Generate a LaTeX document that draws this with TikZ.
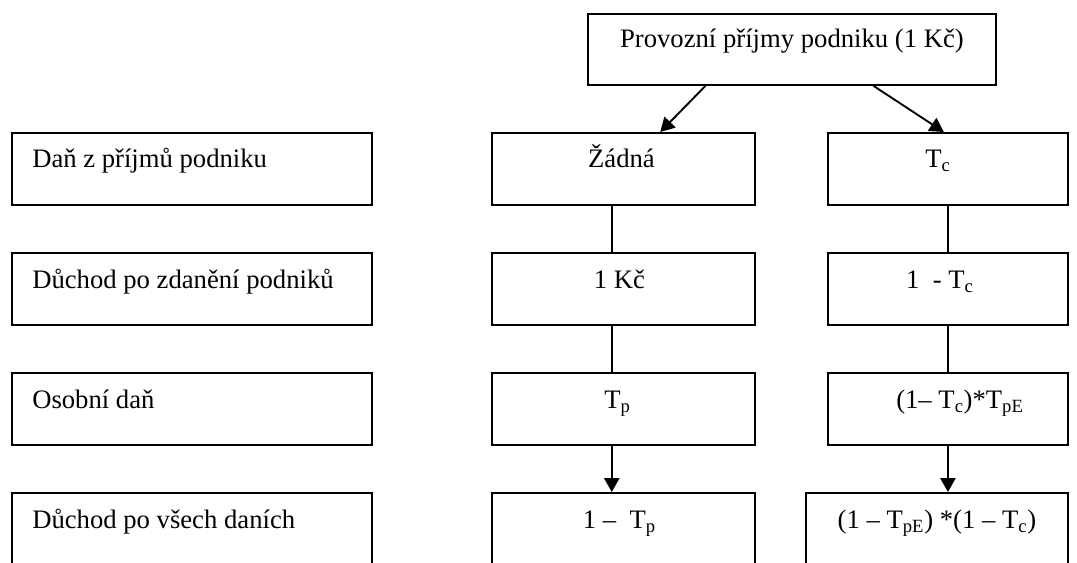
\documentclass[tikz,border=0pt]{standalone}
\usepackage{fontspec}
\setmainfont{Liberation Serif}
\usetikzlibrary{arrows.meta,calc}
\begin{document}
\begin{tikzpicture}[x=0.75pt,y=-0.75pt,
  box/.style={draw, line width=1.4pt, rectangle, inner sep=0pt, anchor=north west, minimum height=72*0.75pt},
  lbl/.style={anchor=base, inner sep=0pt, font=\fontsize{20}{24}\selectfont},
  conn/.style={line width=1.4pt},
  arr/.style={line width=1.4pt, -{Triangle[width=11.5pt,length=10.5pt]}}]
\useasboundingbox (0,0) rectangle (1077,562);
\clip (0,0) rectangle (1077,562);
% boxes
\node[box, minimum width=408*0.75pt, minimum height=71*0.75pt] (top) at (587,13) {};
\node[box, minimum width=360*0.75pt] (l1) at (11,132) {};
\node[box, minimum width=360*0.75pt] (l2) at (11,252) {};
\node[box, minimum width=360*0.75pt] (l3) at (11,372) {};
\node[box, minimum width=360*0.75pt, minimum height=90*0.75pt] (l4) at (11,492) {};
\node[box, minimum width=263*0.75pt] (m1) at (491,132) {};
\node[box, minimum width=263*0.75pt] (m2) at (491,252) {};
\node[box, minimum width=263*0.75pt] (m3) at (491,372) {};
\node[box, minimum width=263*0.75pt, minimum height=90*0.75pt] (m4) at (491,492) {};
\node[box, minimum width=240*0.75pt] (r1) at (827,132) {};
\node[box, minimum width=240*0.75pt] (r2) at (827,252) {};
\node[box, minimum width=240*0.75pt] (r3) at (827,372) {};
\node[box, minimum width=262*0.75pt, minimum height=90*0.75pt] (r4) at (805,492) {};
% texts
\node[lbl] (ttop) at ([yshift=-34*0.75pt]top.north) {Provozní příjmy podniku (1 Kč)};
\node[lbl, anchor=base west] (tl1) at ([xshift=21*0.75pt, yshift=-35*0.75pt]l1.north west) {Daň z příjmů podniku};
\node[lbl, anchor=base west] (tl2) at ([xshift=21*0.75pt, yshift=-36*0.75pt]l2.north west) {Důchod po zdanění podniků};
\node[lbl, anchor=base west] (tl3) at ([xshift=21*0.75pt, yshift=-36*0.75pt]l3.north west) {Osobní daň};
\node[lbl, anchor=base west] (tl4) at ([xshift=21*0.75pt, yshift=-36*0.75pt]l4.north west) {Důchod po všech daních};
\node[lbl] (tm1) at ([xshift=-2*0.75pt, yshift=-35*0.75pt]m1.north) {Žádná};
\node[lbl] (tm2) at ([xshift=-4*0.75pt, yshift=-36*0.75pt]m2.north) {1 Kč};
\node[lbl] (tm3) at ([xshift=-6*0.75pt, yshift=-36*0.75pt]m3.north) {T\textsubscript{p}};
\node[lbl] (tm4) at ([xshift=-4*0.75pt, yshift=-36*0.75pt]m4.north) {1 –\ \ T\textsubscript{p}};
\node[lbl] (tr1) at ([xshift=-10*0.75pt, yshift=-35*0.75pt]r1.north) {T\textsubscript{c}};
\node[lbl] (tr2) at ([xshift=-8*0.75pt, yshift=-36*0.75pt]r2.north) {1\ \ - T\textsubscript{c}};
\node[lbl] (tr3) at ([xshift=12*0.75pt, yshift=-36*0.75pt]r3.north) {(1– T\textsubscript{c})*T\textsubscript{pE}};
\node[lbl] (tr4) at ([xshift=0*0.75pt, yshift=-36*0.75pt]r4.north) {(1 – T\textsubscript{pE}) *(1 – T\textsubscript{c})};
% connectors
\draw[arr] ($(top.south west)!0.289!(top.south east)$) -- ($(m1.north west)!0.639!(m1.north east)$);
\draw[arr] ($(top.south west)!0.699!(top.south east)$) -- ($(r1.north west)!0.483!(r1.north east)$);
\draw[conn] ($(m1.south west)!0.456!(m1.south east)$) -- ($(m2.north west)!0.456!(m2.north east)$);
\draw[conn] ($(m2.south west)!0.456!(m2.south east)$) -- ($(m3.north west)!0.456!(m3.north east)$);
\draw[arr] ($(m3.south west)!0.456!(m3.south east)$) -- ($(m4.north west)!0.456!(m4.north east)$);
\draw[conn] (r1.south) -- (r2.north);
\draw[conn] (r2.south) -- (r3.north);
\draw[arr] (r3.south) -- (r3.south |- r4.north);
\end{tikzpicture}
\end{document}
